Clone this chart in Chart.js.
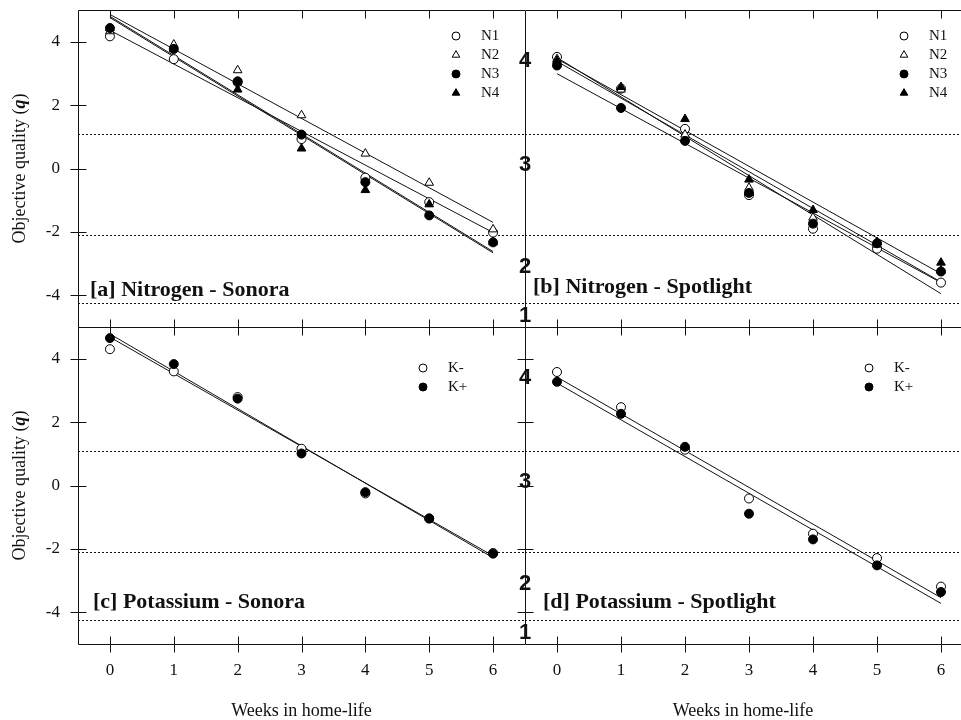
<!DOCTYPE html>
<html>
<head>
<meta charset="utf-8">
<script src="https://cdn.jsdelivr.net/npm/chart.js@4"></script>
<style>
  html, body { margin: 0; padding: 0; background: #fff; overflow: hidden; width: 961px; height: 720px; }
  canvas { position: absolute; left: 0; top: 0; }
</style>
</head>
<body>
<canvas id="panelA" width="980" height="720"></canvas>
<canvas id="panelB" width="980" height="720"></canvas>
<canvas id="panelC" width="980" height="720"></canvas>
<canvas id="panelD" width="980" height="720"></canvas>
<script>
const weeks = [0, 1, 2, 3, 4, 5, 6];
const yTicks = [-4, -2, 0, 2, 4];
const ratingLabels = ['4', '3', '2', '1'];
const ratingAt = [3.4, 0.1, -3.1, -4.65];   // where the 1-4 rating marks sit on the q scale
const cutoffs = [1.1, -2.1, -4.25];

// [a] Nitrogen - Sonora
const sonoraN1 = [4.17, 3.45, 2.72, 0.93, -0.29, -1.06, -2.02];
const sonoraN2 = [4.33, 3.91, 3.10, 1.68, 0.47, -0.45, -1.92];
const sonoraN3 = [4.43, 3.77, 2.75, 1.07, -0.43, -1.48, -2.33];
const sonoraN4 = [4.43, 3.77, 2.49, 0.63, -0.68, -1.13, -2.33];
const sonoraNFitStart = [4.36, 4.86, 4.80, 4.76];
const sonoraNFitEnd = [-2.02, -1.70, -2.62, -2.66];

// [b] Nitrogen - Spotlight
const spotN1 = [3.52, 2.52, 1.25, -0.84, -1.90, -2.53, -3.60];
const spotN2 = [3.45, 2.49, 1.07, -0.61, -1.55, -2.40, -3.22];
const spotN3 = [3.25, 1.91, 0.87, -0.77, -1.74, -2.36, -3.25];
const spotN4 = [3.40, 2.57, 1.56, -0.35, -1.31, -2.32, -2.97];
const spotNFitStart = [3.50, 3.38, 2.99, 3.46];
const spotNFitEnd = [-3.95, -3.58, -3.60, -3.32];

// [c] Potassium - Sonora
const sonoraKminus = [4.30, 3.60, 2.79, 1.16, -0.25, -1.04, -2.13];
const sonoraKplus = [4.65, 3.83, 2.74, 1.01, -0.21, -1.04, -2.15];
const sonoraKFitStart = [4.68, 4.78];
const sonoraKFitEnd = [-2.22, -2.28];

// [d] Potassium - Spotlight
const spotKminus = [3.58, 2.47, 1.13, -0.41, -1.52, -2.29, -3.19];
const spotKplus = [3.27, 2.26, 1.22, -0.89, -1.70, -2.52, -3.36];
const spotKFitStart = [3.42, 3.23];
const spotKFitEnd = [-3.54, -3.72];

const nLabels = ['N1', 'N2', 'N3', 'N4'];
const kLabels = ['K-', 'K+'];
const nStyles = [['circle', '#fff'], ['triangle', '#fff'], ['circle', '#000'], ['triangle', '#000']];
const kStyles = [['circle', '#fff'], ['circle', '#000']];

const serif = '"Liberation Serif", "Times New Roman", serif';
const ink = '#111';

function markerPath(ctx, style, x, y, r) {
  ctx.beginPath();
  if (style === 'triangle') {
    ctx.moveTo(x, y - r * 1.1);
    ctx.lineTo(x + r * 0.95, y + r * 0.55);
    ctx.lineTo(x - r * 0.95, y + r * 0.55);
    ctx.closePath();
  } else {
    ctx.arc(x, y, r, 0, Math.PI * 2);
  }
}

const framePlugin = {
  id: 'frame',
  beforeDatasetsDraw(chart) {
    const { ctx, chartArea: a, scales: { y } } = chart;
    ctx.save();
    ctx.strokeStyle = ink;
    ctx.lineWidth = 1;
    ctx.setLineDash([2, 2]);
    cutoffs.forEach(v => {
      const py = Math.round(y.getPixelForValue(v)) + 0.5;
      ctx.beginPath(); ctx.moveTo(a.left, py); ctx.lineTo(a.right, py); ctx.stroke();
    });
    ctx.restore();
  },
  afterDraw(chart, args, o) {
    const { ctx, chartArea: a, scales: { x, y } } = chart;
    ctx.save();
    ctx.strokeStyle = ink; ctx.fillStyle = ink; ctx.lineWidth = 1;
    const seg = (x1, y1, x2, y2) => { ctx.beginPath(); ctx.moveTo(x1, y1); ctx.lineTo(x2, y2); ctx.stroke(); };
    const L = a.left + 0.5, T = a.top + 0.5, B = a.bottom + 0.5;
    seg(L, T, a.right, T); seg(L, T, L, B); seg(L, B, a.right, B);
    weeks.forEach(w => {
      const px = Math.round(x.getPixelForValue(w)) + 0.5;
      seg(px, T, px, T + 8);
      seg(px, B - 8, px, o.crossBottom ? B + 8 : B);
    });
    if (o.yTicks) {
      yTicks.forEach(v => {
        const py = Math.round(y.getPixelForValue(v)) + 0.5;
        seg(L - 8, py, L + 8, py);
      });
    }
    if (o.rating) {
      ctx.font = 'bold 22px "Liberation Sans", Arial, sans-serif';
      ctx.textAlign = 'center'; ctx.textBaseline = 'middle';
      ratingLabels.forEach((t, i) => ctx.fillText(t, a.left, y.getPixelForValue(ratingAt[i])));
    }
    // panel title
    ctx.font = 'bold 22px ' + serif;
    ctx.textAlign = 'left'; ctx.textBaseline = 'alphabetic';
    ctx.fillText(o.title, a.left + o.titleDx, a.top + o.titleDy);
    // legend
    ctx.font = '15px ' + serif;
    ctx.textBaseline = 'middle';
    o.legend.forEach((t, i) => {
      const ly = o.legendY + i * 19;
      const [style, fill] = o.styles[i];
      markerPath(ctx, style, o.legendX, ly, 4);
      ctx.fillStyle = fill; ctx.fill();
      ctx.strokeStyle = '#000'; ctx.stroke();
      ctx.fillStyle = ink;
      ctx.fillText(t, o.legendX + 25, ly);
    });
    // y axis title
    if (o.yTitle) {
      const cy = (a.top + a.bottom) / 2;
      ctx.translate(20, cy);
      ctx.rotate(-Math.PI / 2);
      const p1 = 'Objective quality (', p2 = 'q', p3 = ')';
      ctx.font = '18px ' + serif;
      const w1 = ctx.measureText(p1).width, w3 = ctx.measureText(p3).width;
      ctx.font = 'bold italic 18px ' + serif;
      const w2 = ctx.measureText(p2).width;
      let sx = -(w1 + w2 + w3) / 2;
      ctx.textAlign = 'left';
      ctx.font = '18px ' + serif; ctx.fillText(p1, sx, 0);
      ctx.font = 'bold italic 18px ' + serif; ctx.fillText(p2, sx + w1, 0);
      ctx.font = '18px ' + serif; ctx.fillText(p3, sx + w1 + w2, 0);
      ctx.setTransform(1, 0, 0, 1, 0, 0);
    }
    if (o.xTitle) {
      ctx.font = '18px ' + serif;
      ctx.textAlign = 'center';
      ctx.fillText('Weeks in home-life', (a.left + a.right) / 2 + o.xTitleDx, 711);
    }
    ctx.restore();
  }
};

function buildDatasets(series, fitStart, fitEnd, styles, labels) {
  const fits = fitStart.map((s, i) => ({
    label: labels[i] + ' fit',
    data: [{ x: weeks[0], y: s }, { x: weeks[weeks.length - 1], y: fitEnd[i] }],
    showLine: true, pointRadius: 0, borderColor: ink, borderWidth: 1, order: 20
  }));
  const pts = series.map((vals, i) => ({
    label: labels[i],
    data: weeks.map((w, j) => ({ x: w, y: vals[j] })),
    pointStyle: styles[i][0],
    pointRadius: styles[i][0] === 'triangle' ? 5 : 4.5,
    pointBackgroundColor: styles[i][1],
    pointBorderColor: '#000',
    pointBorderWidth: 1,
    order: series.length - i
  }));
  return fits.concat(pts);
}

function makePanel(id, datasets, p) {
  return new Chart(document.getElementById(id), {
    type: 'scatter',
    data: { datasets },
    options: {
      responsive: false,
      animation: false,
      events: [],
      layout: { autoPadding: false, padding: p.pad },
      scales: {
        x: {
          type: 'linear', min: -0.5, max: 6.5, display: p.xLabels,
          afterBuildTicks: s => { s.ticks = weeks.map(v => ({ value: v })); },
          afterFit: s => { if (s.options.display) s.height = 76; },
          grid: { display: false, drawTicks: false },
          border: { display: false },
          ticks: { padding: 16, font: { family: serif, size: 17 }, color: ink }
        },
        y: {
          type: 'linear', min: -5, max: 5, display: p.yLabels,
          afterBuildTicks: s => { s.ticks = yTicks.map(v => ({ value: v })); },
          afterFit: s => { if (s.options.display) s.width = 78; },
          grid: { display: false, drawTicks: true, tickLength: 18 },
          border: { display: false },
          ticks: { padding: 0, font: { family: serif, size: 17, lineHeight: 1 }, color: ink }
        }
      },
      plugins: { legend: { display: false }, tooltip: { enabled: false }, frame: p.frame }
    },
    plugins: [framePlugin]
  });
}

makePanel('panelA',
  buildDatasets([sonoraN1, sonoraN2, sonoraN3, sonoraN4], sonoraNFitStart, sonoraNFitEnd, nStyles, nLabels),
  { pad: { left: 0, top: 10, right: 455, bottom: 393 }, xLabels: false, yLabels: true,
    frame: { yTicks: true, crossBottom: false, rating: false, title: '[a] Nitrogen - Sonora', titleDx: 12, titleDy: 286,
             legend: nLabels, styles: nStyles, legendX: 456, legendY: 36, yTitle: true, xTitle: false } });

makePanel('panelB',
  buildDatasets([spotN1, spotN2, spotN3, spotN4], spotNFitStart, spotNFitEnd, nStyles, nLabels),
  { pad: { left: 525, top: 10, right: 7, bottom: 393 }, xLabels: false, yLabels: false,
    frame: { yTicks: false, crossBottom: false, rating: true, title: '[b] Nitrogen - Spotlight', titleDx: 8, titleDy: 283,
             legend: nLabels, styles: nStyles, legendX: 904, legendY: 36, yTitle: false, xTitle: false } });

makePanel('panelC',
  buildDatasets([sonoraKminus, sonoraKplus], sonoraKFitStart, sonoraKFitEnd, kStyles, kLabels),
  { pad: { left: 0, top: 327, right: 455, bottom: 0 }, xLabels: true, yLabels: true,
    frame: { yTicks: true, crossBottom: true, rating: false, title: '[c] Potassium - Sonora', titleDx: 15, titleDy: 281,
             legend: kLabels, styles: kStyles, legendX: 423, legendY: 368, yTitle: true, xTitle: true, xTitleDx: 0 } });

makePanel('panelD',
  buildDatasets([spotKminus, spotKplus], spotKFitStart, spotKFitEnd, kStyles, kLabels),
  { pad: { left: 525, top: 327, right: 7, bottom: 0 }, xLabels: true, yLabels: false,
    frame: { yTicks: true, crossBottom: true, rating: true, title: '[d] Potassium - Spotlight', titleDx: 18, titleDy: 281,
             legend: kLabels, styles: kStyles, legendX: 869, legendY: 368, yTitle: false, xTitle: true, xTitleDx: -6 } });
</script>
</body>
</html>
